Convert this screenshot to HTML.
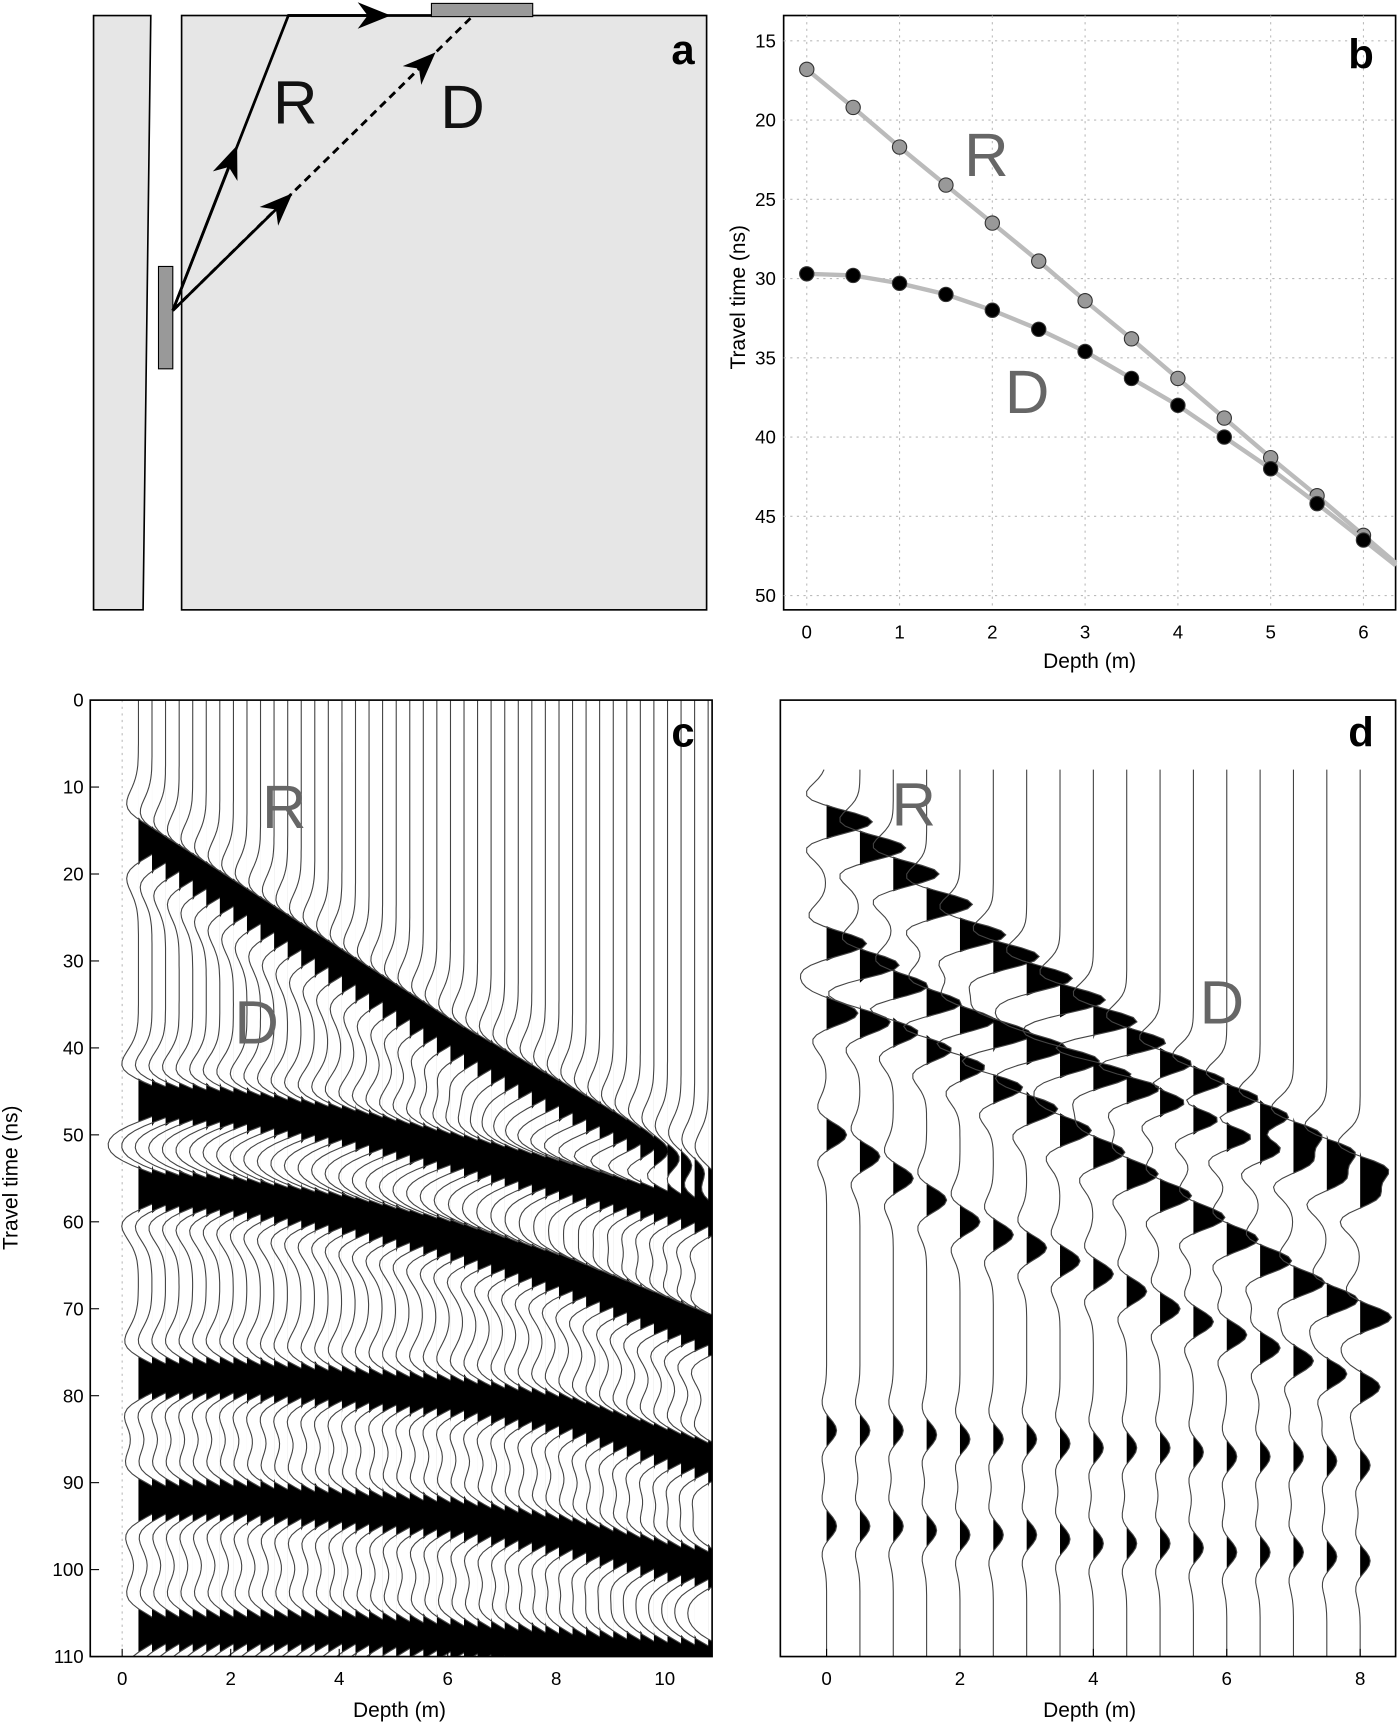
<!DOCTYPE html>
<html><head><meta charset="utf-8">
<style>
html,body{margin:0;padding:0;background:#fff;}
svg{display:block;font-family:"Liberation Sans",Arial,sans-serif;}
</style></head>
<body>
<svg id="fig" width="1400" height="1726" viewBox="0 0 1272 1568" xmlns="http://www.w3.org/2000/svg">
<defs>
<marker id="arr" viewBox="0 0 10 10" refX="5" refY="5" markerWidth="12" markerHeight="12" orient="auto"><path d="M0,1 L10,5 L0,9 L3,5 z" fill="#000"/></marker>
<clipPath id="clipc"><rect x="82" y="636" width="565" height="869"/></clipPath>
<clipPath id="clipd"><rect x="709" y="636" width="559" height="869"/></clipPath>
</defs>

<!-- Panel a -->
<g>
<polygon points="85,14 137,14 130,554 85,554" fill="#e6e6e6" stroke="#000" stroke-width="1.5"/>
<rect x="165" y="14" width="477" height="540" fill="#e6e6e6" stroke="#000" stroke-width="1.5"/>
<rect x="144" y="242" width="13" height="93" fill="#999" stroke="#000"/>
<rect x="392" y="3" width="92" height="12" fill="#999" stroke="#000"/>
<line x1="157" y1="282" x2="210" y2="146" stroke="#000" stroke-width="2.5" marker-end="url(#arr)"/>
<polyline points="157,282 262,14 392,14" fill="none" stroke="#000" stroke-width="2.5"/>
<line x1="262" y1="14" x2="340" y2="14" stroke="#000" stroke-width="2.5" marker-end="url(#arr)"/>
<line x1="157" y1="282" x2="430" y2="14" stroke="#000" stroke-width="2.5" stroke-dasharray="7,5"/>
<line x1="157" y1="282" x2="255" y2="186" stroke="#000" stroke-width="2.5" marker-end="url(#arr)"/>
<line x1="157" y1="282" x2="385" y2="58" stroke="#000" stroke-width="2.5" marker-end="url(#arr)" stroke-dasharray="7,5"/>
<text x="248" y="112" font-size="56" fill="#111">R</text>
<text x="400" y="116" font-size="56" fill="#111">D</text>
<text x="610" y="58" font-size="38" font-weight="bold">a</text>
</g>

<g id="panelb"></g>
<g id="panelc"></g>
<g id="paneld"></g>
</svg>
<script>
// ---- Panel b data ----
const bDepths=[0,0.5,1,1.5,2,2.5,3,3.5,4,4.5,5,5.5,6];
const bR=[16.8,19.2,21.7,24.1,26.5,28.9,31.4,33.8,36.3,38.8,41.3,43.7,46.2];
const bD=[29.7,29.8,30.3,31.0,32.0,33.2,34.6,36.3,38.0,40.0,42.0,44.2,46.5];
const bXTicks=[0,1,2,3,4,5,6];
const bYTicks=[15,20,25,30,35,40,45,50];
// ---- Panel c events (depth m, time ns) ----
const cEventDepths=[0,2,4,6,8,10,12];
const cE1=[15,23,31,39,46,53,59];
const cE2=[46,47,49,52,55,58,62];
const cE3=[56,57,59,62,66,71,76];
const cE4=[78,78,79,80,82,86,90];
const cE5=[92,92,93,94,96,99,101];
const cE6=[107,107,107,108,109,110,111];
const cAmps=[1.2,1.7,1.7,1.4,1.3,1.2];
const cXTicks=[0,2,4,6,8,10];
const cYTicks=[0,10,20,30,40,50,60,70,80,90,100,110];
// ---- Panel d events ----
const dEventDepths=[0,1,2,3,4,5,6,7,8];
const dE1=[14,20,27,32,37,42,46,50,54];
const dE2=[28,33,37,40,43,46,50,53,57];
const dE3=[36,38,42,47,52,57,62,67,71];
const dE4=[50,55,60,63,66,70,73,76,79];
const dE5=[84,84,85,85,86,86,87,87,88];
const dE6=[95,95,96,96,97,97,98,98,99];
const dAmps=[1.6,1.4,1.1,0.7,0.35,0.35];
const dXTicks=[0,2,4,6,8];

const NS="http://www.w3.org/2000/svg";
function mk(parent,tag,attrs,txt){const e=document.createElementNS(NS,tag);for(const k in attrs)e.setAttribute(k,attrs[k]);if(txt!==undefined)e.textContent=txt;parent.appendChild(e);return e;}
function interp(xs,ys,x){if(x<=xs[0])return ys[0]+(ys[1]-ys[0])/(xs[1]-xs[0])*(x-xs[0]);for(let i=0;i<xs.length-1;i++){if(x<=xs[i+1])return ys[i]+(ys[i+1]-ys[i])*(x-xs[i])/(xs[i+1]-xs[i]);}const n=xs.length;return ys[n-1]+(ys[n-1]-ys[n-2])/(xs[n-1]-xs[n-2])*(x-xs[n-1]);}

// ---- Panel b ----
(function(){
const g=document.getElementById('panelb');
const x=d=>733+d*84.3, y=t=>37+(t-15)*14.4;
mk(g,'rect',{x:712,y:14,width:556,height:540,fill:'#fff',stroke:'#000','stroke-width':1.5,});
bXTicks.forEach(v=>{mk(g,'line',{x1:x(v),y1:14,x2:x(v),y2:554,stroke:'#bbb','stroke-dasharray':'2,4'});const t=mk(g,'text',{x:x(v),y:580,'font-size':17,'text-anchor':'middle'},v);});
bYTicks.forEach(v=>{mk(g,'line',{x1:712,y1:y(v),x2:1268,y2:y(v),stroke:'#bbb','stroke-dasharray':'2,4'});const t=mk(g,'text',{x:705,y:y(v)+6,'font-size':17,'text-anchor':'end'},v);});
const xt=mk(g,'text',{x:990,y:607,'font-size':19,'text-anchor':'middle'},'Depth (m)');

const yt=mk(g,'text',{x:0,y:0,'font-size':19,'text-anchor':'middle',transform:'translate(677,270) rotate(-90)'},'Travel time (ns)');

[[bR,'#999','series-r'],[bD,'#000','series-d']].forEach(([arr,col,nm])=>{
 let pts=bDepths.map((d,i)=>x(d)+','+y(arr[i]));
 const ext=arr[12]+(arr[12]-arr[11])*0.7;
 pts.push(x(6.35)+','+y(ext));
 const l=mk(g,'polyline',{points:pts.join(' '),fill:'none',stroke:'#bbb','stroke-width':4});
 
 bDepths.forEach((d,i)=>{const c=mk(g,'circle',{cx:x(d),cy:y(arr[i]),r:6.5,fill:col,stroke:'#333'});});
});
mk(g,'text',{x:876,y:160,'font-size':56,fill:'#666'},'R');
mk(g,'text',{x:913,y:375,'font-size':56,fill:'#666'},'D');
mk(g,'text',{x:1225,y:62,'font-size':38,'font-weight':'bold'},'b');
})();

function ricker(tau,f){const a=Math.PI*Math.PI*f*f*tau*tau;return (1-2*a)*Math.exp(-a);}
function drawWiggles(g,clip,depths,events,amps,evDepths,xf,yf,scale,freq,tmin){
 const tg=mk(g,'g',{'clip-path':'url(#'+clip+')'});
 depths.forEach(d=>{
  const x0=xf(d);let line='',fill='M'+x0+','+yf(tmin);
  for(let t=tmin;t<=112;t+=0.5){
   let s=0;events.forEach((ev,k)=>{const ta=interp(evDepths,ev,d);s+=amps[k]*ricker(t-ta,freq);});
   const xx=x0+scale*s,yy=yf(t);
   line+=(line?'L':'M')+xx.toFixed(1)+','+yy.toFixed(1);
   fill+='L'+(x0+scale*Math.max(s,0)).toFixed(1)+','+yy.toFixed(1);
  }
  fill+='L'+x0+','+yf(112)+'Z';
  const f=mk(tg,'path',{d:fill,fill:'#000'});
  const l=mk(tg,'path',{d:line,fill:'none',stroke:'#444','stroke-width':1});
 });
}

// ---- Panel c ----
(function(){
const g=document.getElementById('panelc');
const x=d=>111+d*49.3, y=t=>636+t*7.9;
mk(g,'rect',{x:82,y:636,width:565,height:869,fill:'#fff',});
mk(g,'line',{x1:x(0),y1:636,x2:x(0),y2:1505,stroke:'#bbb','stroke-dasharray':'2,4'});
const depths=[];for(let i=0;i<=42;i++)depths.push(0.3+i*0.25);
drawWiggles(g,'clipc',depths,[cE1,cE2,cE3,cE4,cE5,cE6],cAmps,cEventDepths,x,y,20,0.09,0);
mk(g,'rect',{x:82,y:636,width:565,height:869,fill:'none',stroke:'#000','stroke-width':1.5});
cXTicks.forEach(v=>{mk(g,'line',{x1:x(v),y1:1505,x2:x(v),y2:1498,stroke:'#000'});const t=mk(g,'text',{x:x(v),y:1531,'font-size':17,'text-anchor':'middle'},v);});
cYTicks.forEach(v=>{mk(g,'line',{x1:82,y1:y(v),x2:90,y2:y(v),stroke:'#000'});const t=mk(g,'text',{x:76,y:y(v)+6,'font-size':17,'text-anchor':'end'},v);});
const xt=mk(g,'text',{x:363,y:1560,'font-size':19,'text-anchor':'middle'},'Depth (m)');
const yt=mk(g,'text',{x:0,y:0,'font-size':19,'text-anchor':'middle',transform:'translate(16,1070) rotate(-90)'},'Travel time (ns)');
mk(g,'text',{x:238,y:752,'font-size':56,fill:'#666'},'R');
mk(g,'text',{x:213,y:948,'font-size':56,fill:'#666'},'D');
mk(g,'text',{x:610,y:678,'font-size':38,'font-weight':'bold'},'c');
})();

// ---- Panel d ----
(function(){
const g=document.getElementById('paneld');
const x=d=>751+d*60.6, y=t=>636+t*7.9;
mk(g,'rect',{x:709,y:636,width:559,height:869,fill:'#fff',});
const depths=[];for(let i=0;i<=16;i++)depths.push(i*0.5);
drawWiggles(g,'clipd',depths,[dE1,dE2,dE3,dE4,dE5,dE6],dAmps,dEventDepths,x,y,26,0.12,8);
mk(g,'rect',{x:709,y:636,width:559,height:869,fill:'none',stroke:'#000','stroke-width':1.5});
dXTicks.forEach(v=>{mk(g,'line',{x1:x(v),y1:1505,x2:x(v),y2:1498,stroke:'#000'});const t=mk(g,'text',{x:x(v),y:1531,'font-size':17,'text-anchor':'middle'},v);});
const xt=mk(g,'text',{x:990,y:1560,'font-size':19,'text-anchor':'middle'},'Depth (m)');
mk(g,'text',{x:810,y:750,'font-size':56,fill:'#666'},'R');
mk(g,'text',{x:1090,y:930,'font-size':56,fill:'#666'},'D');
mk(g,'text',{x:1225,y:678,'font-size':38,'font-weight':'bold'},'d');
})();
</script>
</body></html>
